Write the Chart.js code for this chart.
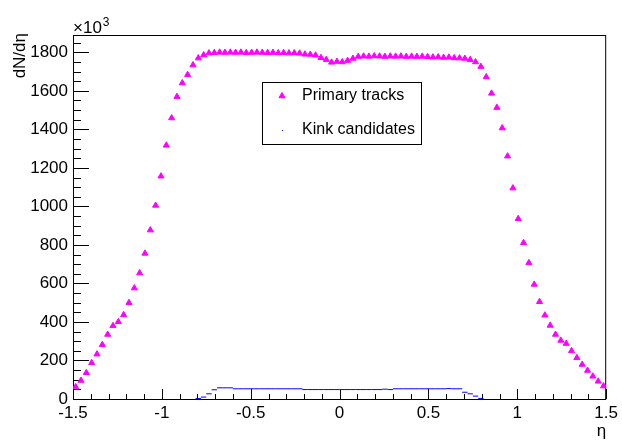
<!DOCTYPE html>
<html>
<head>
<meta charset="utf-8">
<script src="https://cdn.jsdelivr.net/npm/chart.js@4.4.1/dist/chart.umd.min.js"></script>
<style>
  html, body { margin: 0; padding: 0; background: #fff; }
  #wrap { width: 622px; height: 443px; }
</style>
</head>
<body>
<div id="wrap"><canvas id="chart" width="622" height="443"></canvas></div>
<script>
// histogram binning in eta
const etaMin = -1.5;
const etaMax = 1.5;
const nBins = 100;

// dN/deta of primary tracks, in units of 10^3
const primaryTracks = [
  63, 96, 136, 188, 233, 282, 335, 380, 401, 437,
  500, 576, 654, 756, 877, 1005, 1157, 1317, 1459, 1570,
  1641, 1684, 1734, 1770, 1786, 1796, 1798, 1800, 1799, 1800,
  1799, 1800, 1798, 1799, 1800, 1799, 1798, 1799, 1797, 1798,
  1796, 1797, 1795, 1790, 1789, 1785, 1772, 1762, 1748, 1752,
  1750, 1757, 1768, 1778, 1780, 1779, 1781, 1780, 1778, 1780,
  1779, 1780, 1778, 1779, 1778, 1779, 1777, 1775, 1776, 1773,
  1774, 1771, 1770, 1768, 1762, 1750, 1726, 1672, 1587, 1513,
  1407, 1261, 1095, 936, 811, 707, 595, 505, 435, 382,
  335, 304, 288, 250, 214, 179, 148, 118, 92, 67
];

// kink candidates, same binning (empty bins left out)
const kinkCandidates = [
  null, null, null, null, null, null, null, null, null, null,
  null, null, null, null, null, null, null, null, null, null,
  null, null, null, 3, 10, 27, 48, 58, 58, 58,
  53, 53, 53, 53, 53, 53, 53, 53, 53, 53,
  53, 53, 53, 49, 49, 49, 49, 49, 49, 49,
  49, 49, 49, 49, 49, 49, 49, 49, 51, 49,
  53, 53, 53, 53, 53, 53, 53, 53, 53, 53,
  54, 53, 53, 35, 27, 15, 3, null, null, null,
  null, null, null, null, null, null, null, null, null, null,
  null, null, null, null, null, null, null, null, null, null
];

const xTickLabels = [-1.5, -1, -0.5, 0, 0.5, 1, 1.5];
const yTickLabels = [0, 200, 400, 600, 800, 1000, 1200, 1400, 1600, 1800];
const yMax = 1890;

const seriesNames = ["Primary tracks", "Kink candidates"];
const xTitle = "η";
const yTitle = "dN/dη";

const FONT = "'Liberation Sans', Arial, Helvetica, sans-serif";
const MAGENTA = "#ff00ff";
const BLUE = "#0000ff";

(() => {
  const binWidth = (etaMax - etaMin) / nBins;

  function toPoints(values) {
    return values.map((v, i) => ({ x: etaMin + (i + 0.5) * binWidth, y: v }));
  }

  // frame with inward ticks, axis titles and the legend box, ROOT style
  const rootFrame = {
    id: "rootFrame",
    beforeDatasetsDraw(chart) {
      const { ctx, chartArea } = chart;
      const xs = chart.scales.x;
      const ys = chart.scales.y;
      ctx.save();
      ctx.strokeStyle = "#000";
      ctx.lineWidth = 1;
      ctx.strokeRect(chartArea.left + 0.5, chartArea.top + 0.5,
        chartArea.right - chartArea.left - 1, chartArea.bottom - chartArea.top);

      ctx.beginPath();
      for (let k = -15; k <= 15; k++) {
        const px = Math.round(xs.getPixelForValue(k / 10)) + 0.5;
        const len = k % 5 === 0 ? 10 : 5;
        ctx.moveTo(px, chartArea.bottom);
        ctx.lineTo(px, chartArea.bottom - len);
      }
      for (let v = 0; v <= 1850; v += 50) {
        const py = Math.round(ys.getPixelForValue(v)) + 0.5;
        const len = v % 200 === 0 ? 16 : 8;
        ctx.moveTo(chartArea.left, py);
        ctx.lineTo(chartArea.left + len, py);
      }
      ctx.stroke();
      ctx.restore();
    },
    afterDatasetsDraw(chart) {
      const { ctx, chartArea } = chart;
      ctx.save();
      ctx.fillStyle = "#000";

      // exponent above the y axis
      ctx.font = "17px " + FONT;
      ctx.textAlign = "left";
      ctx.textBaseline = "alphabetic";
      ctx.fillText("×10", chartArea.left, 33);
      const expX = chartArea.left + ctx.measureText("×10").width + 1;
      ctx.font = "12px " + FONT;
      ctx.fillText("3", expX, 26);

      // y title, right aligned to the top of the axis
      ctx.font = "17px " + FONT;
      ctx.translate(20, chartArea.top - 2);
      ctx.rotate(-Math.PI / 2);
      ctx.textAlign = "right";
      ctx.textBaseline = "middle";
      ctx.fillText(yTitle, 0, 0);
      ctx.restore();

      ctx.save();
      ctx.fillStyle = "#000";
      ctx.font = "17px " + FONT;
      ctx.textAlign = "right";
      ctx.textBaseline = "alphabetic";
      ctx.fillText(xTitle, chartArea.right, 436);

      // legend
      const lx = 262, ly = 82, lw = 159, lh = 62;
      ctx.fillStyle = "#fff";
      ctx.fillRect(lx, ly, lw, lh);
      ctx.strokeStyle = "#000";
      ctx.lineWidth = 1;
      ctx.strokeRect(lx + 0.5, ly + 0.5, lw, lh);

      const prim = chart.data.datasets[0];
      ctx.fillStyle = prim.backgroundColor;
      ctx.strokeStyle = prim.borderColor;
      ctx.lineWidth = prim.pointBorderWidth;
      Chart.helpers.drawPoint(ctx, {
        pointStyle: "triangle", radius: prim.pointRadius, rotation: 0,
        borderWidth: prim.pointBorderWidth
      }, lx + 20, ly + 14);
      ctx.fillStyle = BLUE;
      ctx.fillRect(lx + 20, ly + 48, 1, 1);

      ctx.fillStyle = "#000";
      ctx.font = "16px " + FONT;
      ctx.textAlign = "left";
      ctx.textBaseline = "middle";
      ctx.fillText(seriesNames[0], lx + 40, ly + 14);
      ctx.fillText(seriesNames[1], lx + 40, ly + 48);
      ctx.restore();
    }
  };

  function makeChart() {
    const ctx = document.getElementById("chart").getContext("2d");
    const halfBinPx = (536 / nBins) / 2 * (etaMax - etaMin) / 3;

    return new Chart(ctx, {
      type: "scatter",
      data: {
        datasets: [
          {
            label: seriesNames[0],
            data: toPoints(primaryTracks),
            pointStyle: "triangle",
            pointRadius: 3.5,
            pointBorderWidth: 1,
            backgroundColor: MAGENTA,
            borderColor: MAGENTA
          },
          {
            label: seriesNames[1],
            data: toPoints(kinkCandidates),
            pointStyle: "line",
            pointRadius: halfBinPx,
            pointBorderWidth: 1,
            backgroundColor: BLUE,
            borderColor: BLUE
          }
        ]
      },
      options: {
        responsive: false,
        animation: false,
        devicePixelRatio: 1,
        layout: { padding: { top: 35, right: 13, left: 0, bottom: 0 } },
        plugins: { legend: { display: false }, tooltip: { enabled: false } },
        scales: {
          x: {
            type: "linear",
            min: etaMin,
            max: etaMax,
            grid: { display: false, drawTicks: false },
            border: { display: false },
            afterBuildTicks: (scale) => {
              scale.ticks = xTickLabels.map((v) => ({ value: v }));
            },
            afterFit: (scale) => { scale.height = 44; },
            ticks: {
              color: "#000",
              padding: 4,
              maxRotation: 0,
              autoSkip: false,
              font: { family: FONT, size: 17 },
              callback: (v) => String(v)
            }
          },
          y: {
            type: "linear",
            min: 0,
            max: yMax,
            grid: { display: false, drawTicks: false },
            border: { display: false },
            afterBuildTicks: (scale) => {
              scale.ticks = yTickLabels.map((v) => ({ value: v }));
            },
            afterFit: (scale) => { scale.width = 73; },
            ticks: {
              color: "#000",
              padding: 5,
              autoSkip: false,
              font: { family: FONT, size: 17 },
              callback: (v) => String(v)
            }
          }
        }
      },
      plugins: [rootFrame]
    });
  }

  makeChart();
})();
</script>
</body>
</html>
